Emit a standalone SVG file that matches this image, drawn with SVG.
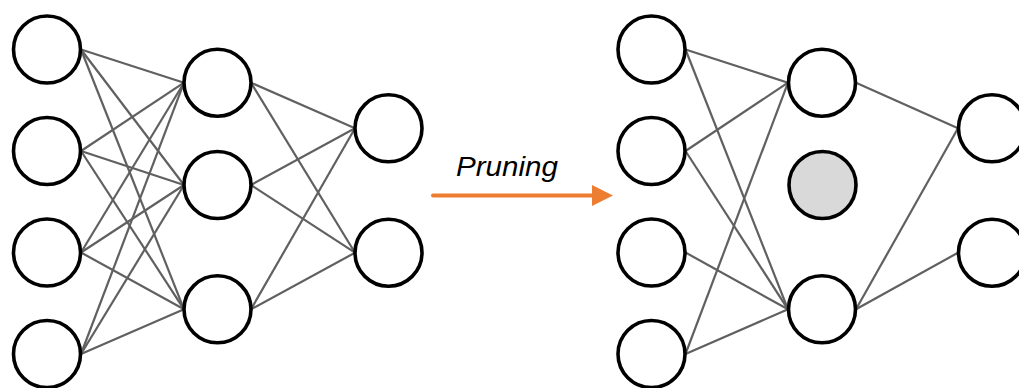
<svg xmlns="http://www.w3.org/2000/svg" width="1019" height="388" viewBox="0 0 1019 388">
<style>
.n{fill:#fff;stroke:#000;stroke-width:3.6}
.p{fill:#d9d9d9;stroke:#000;stroke-width:3.6}
.c line{stroke:#606060;stroke-width:2.2}
.t{font-family:"Liberation Sans",Arial,sans-serif;font-style:italic;font-size:28px;fill:#000}
</style>
<rect width="1019" height="388" fill="#fff"/>
<g id="connectors" class="c">
<!-- left: input -> hidden -->
<line x1="81" y1="49.5" x2="184" y2="82.7"/>
<line x1="81" y1="49.5" x2="184" y2="185"/>
<line x1="81" y1="49.5" x2="184" y2="309.3"/>
<line x1="81" y1="151" x2="184" y2="82.7"/>
<line x1="81" y1="151" x2="184" y2="185"/>
<line x1="81" y1="151" x2="184" y2="309.3"/>
<line x1="81" y1="252.5" x2="184" y2="82.7"/>
<line x1="81" y1="252.5" x2="184" y2="185"/>
<line x1="81" y1="252.5" x2="184" y2="309.3"/>
<line x1="81" y1="354" x2="184" y2="82.7"/>
<line x1="81" y1="354" x2="184" y2="185"/>
<line x1="81" y1="354" x2="184" y2="309.3"/>
<!-- left: hidden -> output -->
<line x1="251" y1="82.7" x2="355" y2="128.3"/>
<line x1="251" y1="82.7" x2="355" y2="252.7"/>
<line x1="251" y1="185" x2="355" y2="128.3"/>
<line x1="251" y1="185" x2="355" y2="252.7"/>
<line x1="251" y1="309.3" x2="355" y2="128.3"/>
<line x1="251" y1="309.3" x2="355" y2="252.7"/>
<!-- right: input -> hidden -->
<line x1="685.5" y1="49.5" x2="788" y2="82.7"/>
<line x1="685.5" y1="49.5" x2="788" y2="309.3"/>
<line x1="685.5" y1="151" x2="788" y2="82.7"/>
<line x1="685.5" y1="151" x2="788" y2="309.3"/>
<line x1="685.5" y1="252.5" x2="788" y2="309.3"/>
<line x1="685.5" y1="354" x2="788" y2="82.7"/>
<line x1="685.5" y1="354" x2="788" y2="309.3"/>
<!-- right: hidden -> output -->
<line x1="856" y1="82.7" x2="958" y2="128.3"/>
<line x1="856" y1="309.3" x2="958" y2="128.3"/>
<line x1="856" y1="309.3" x2="958" y2="252.7"/>
</g>
<g id="left-in1"><circle class="n" cx="47" cy="49.5" r="33.5"/></g>
<g id="left-in2"><circle class="n" cx="47" cy="151" r="33.5"/></g>
<g id="left-in3"><circle class="n" cx="47" cy="252.5" r="33.5"/></g>
<g id="left-in4"><circle class="n" cx="47" cy="354" r="33.5"/></g>
<g id="left-h1"><circle class="n" cx="217.5" cy="82.7" r="33.5"/></g>
<g id="left-h2"><circle class="n" cx="217.5" cy="185" r="33.5"/></g>
<g id="left-h3"><circle class="n" cx="217.5" cy="309.3" r="33.5"/></g>
<g id="left-o1"><circle class="n" cx="388.5" cy="128.3" r="33.5"/></g>
<g id="left-o2"><circle class="n" cx="388.5" cy="252.7" r="33.5"/></g>
<g id="arrow">
<line x1="433" y1="195.5" x2="594" y2="195.5" stroke="#ED7D31" stroke-width="4" stroke-linecap="round"/>
<polygon points="592,185 613,195.5 592,206" fill="#ED7D31"/>
<text class="t" x="456" y="176" textLength="102" lengthAdjust="spacingAndGlyphs">Pruning</text>
</g>
<g id="right-in1"><circle class="n" cx="651.5" cy="49.5" r="33.5"/></g>
<g id="right-in2"><circle class="n" cx="651.5" cy="151" r="33.5"/></g>
<g id="right-in3"><circle class="n" cx="651.5" cy="252.5" r="33.5"/></g>
<g id="right-in4"><circle class="n" cx="651.5" cy="354" r="33.5"/></g>
<g id="right-h1"><circle class="n" cx="822" cy="82.7" r="33.5"/></g>
<g id="right-h2-pruned"><circle class="p" cx="822.5" cy="185" r="33.5"/></g>
<g id="right-h3"><circle class="n" cx="822" cy="309.3" r="33.5"/></g>
<g id="right-o1"><circle class="n" cx="992" cy="128.3" r="33.5"/></g>
<g id="right-o2"><circle class="n" cx="992" cy="252.7" r="33.5"/></g>
</svg>
